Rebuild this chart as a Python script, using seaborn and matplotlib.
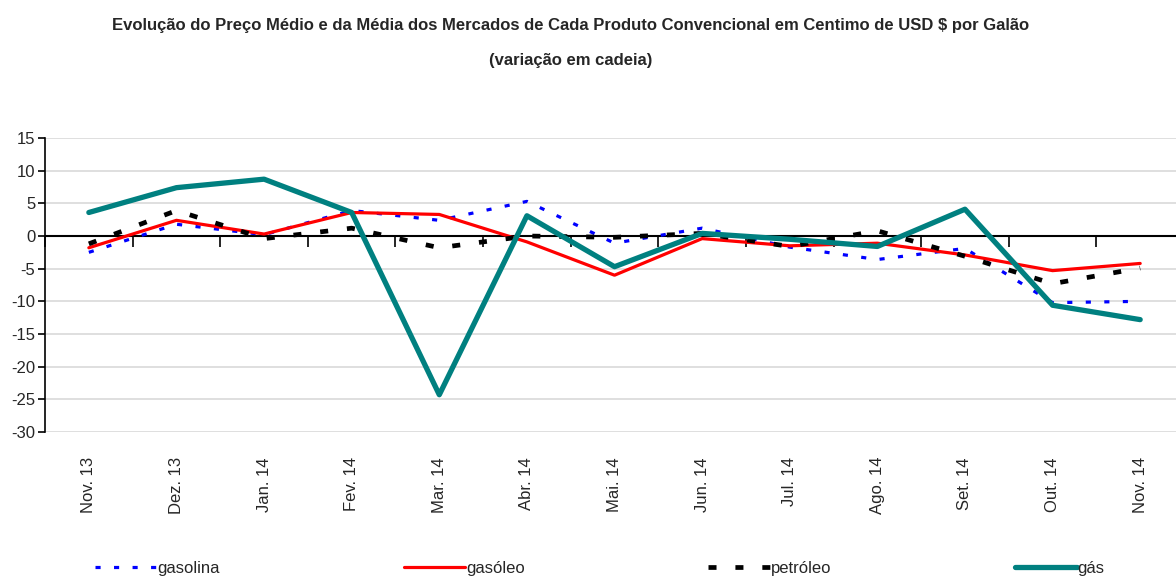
import numpy as np
import pandas as pd
import seaborn as sns
import matplotlib
matplotlib.use('Agg')
from matplotlib import pyplot as plt

months = ['Nov. 13', 'Dez. 13', 'Jan. 14', 'Fev. 14', 'Mar. 14', 'Abr. 14', 'Mai. 14',
          'Jun. 14', 'Jul. 14', 'Ago. 14', 'Set. 14', 'Out. 14', 'Nov. 14']

gasolina = [-2.5, 1.8, 0.2, 3.9, 2.4, 5.3, -1.1, 1.2, -1.7, -3.6, -1.9, -10.2, -10.0]
gasoleo = [-1.8, 2.4, 0.3, 3.6, 3.3, -0.9, -6.0, -0.4, -1.5, -1.1, -2.9, -5.3, -4.2]
petroleo = [-1.2, 3.9, -0.4, 1.2, -1.8, 0.0, -0.2, 0.4, -1.6, 0.8, -3.1, -7.3, -4.9]
gas = [3.6, 7.4, 8.7, 3.6, -24.3, 3.1, -4.7, 0.4, -0.5, -1.6, 4.1, -10.6, -12.8]

series_names = ['gasolina', 'gasóleo', 'petróleo', 'gás']
series_values = [gasolina, gasoleo, petroleo, gas]

sns.set_theme(style='white')
plt.rcParams['font.family'] = ['Liberation Sans Narrow', 'Liberation Sans', 'DejaVu Sans']
plt.rcParams['axes.unicode_minus'] = False

fig = plt.figure(figsize=(11.76, 5.76), dpi=100)
ax = fig.add_axes([0.0383, 0.25, 0.9685, 0.5104])

pos = np.arange(len(months))
styles = {
    'gasolina': dict(color='#0000ff', lw=2.3, dashes=(1.6, 4.2)),
    'gasóleo': dict(color='#ff0000', lw=2.3, dashes=None),
    'petróleo': dict(color='#000000', lw=3.4, dashes=(1.7, 4.0)),
    'gás': dict(color='#008080', lw=3.8, dashes=None),
}

# zero line drawn under the series
ax.axhline(0, color='black', lw=1.5, zorder=1.5)

for name, vals in zip(series_names, series_values):
    st = styles[name]
    line_ax = sns.lineplot(x=pos, y=vals, ax=ax, color=st['color'], linewidth=st['lw'],
                           label=name, legend=False, zorder=2)
    ln = line_ax.get_lines()[-1]
    if st['dashes'] is not None:
        ln.set_dashes(st['dashes'])
        ln.set_dash_capstyle('butt')

ax.set_xlim(-0.5, len(months) - 0.5)
ax.set_ylim(-30, 15)
ax.set_yticks(range(-30, 16, 5))
ax.grid(axis='y', color='#d9d9d9', lw=1.2)
ax.set_axisbelow(True)
for s in ['top', 'right', 'bottom']:
    ax.spines[s].set_visible(False)
ax.spines['left'].set_color('black')
ax.spines['left'].set_linewidth(1.2)
ax.tick_params(axis='y', direction='out', length=5, width=1.2, color='black',
               labelsize=12, pad=2, left=True)

ax.set_xticks(pos)
ax.set_xticklabels(months, rotation=90, fontsize=12, family=['Liberation Sans', 'DejaVu Sans'])
ax.tick_params(axis='x', length=0, pad=18, bottom=True)
ax.set_xlabel('')
ax.set_ylabel('')

# category boundary ticks hanging from the zero line
zero_ax = ax.secondary_xaxis(30 / 45)
zero_ax.set_xticks(np.arange(-0.5, len(months), 1.0))
zero_ax.xaxis.set_ticks_position('bottom')
zero_ax.set_xticklabels([])
zero_ax.tick_params(axis='x', direction='out', length=8, width=1.2, color='black',
                    bottom=True, top=False)
for s in zero_ax.spines.values():
    s.set_visible(False)

fig.text(0.485, 0.955, 'Evolução do Preço Médio e da Média dos Mercados de Cada Produto Convencional em Centimo de USD $ por Galão',
         ha='center', va='center', fontsize=12, fontweight='bold')
fig.text(0.485, 0.895, '(variação em cadeia)', ha='center', va='center', fontsize=12, fontweight='bold')

handles, labels = ax.get_legend_handles_labels()
fig.legend(handles, labels, loc='lower left', bbox_to_anchor=(0.075, -0.012, 0.87, 0.05),
           ncol=4, mode='expand', frameon=False, fontsize=12, handlelength=3.7,
           handletextpad=0.05, borderaxespad=0)

fig.savefig('out.png', dpi=100)
